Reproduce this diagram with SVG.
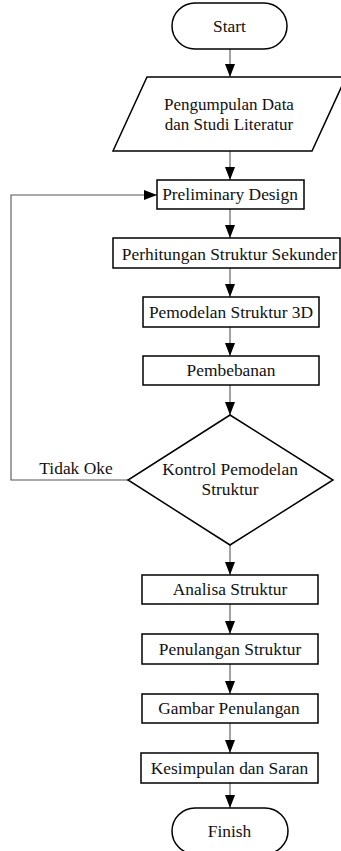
<svg xmlns="http://www.w3.org/2000/svg" width="341" height="851" viewBox="0 0 341 851">
<defs>
<marker id="ah" markerUnits="userSpaceOnUse" markerWidth="14" markerHeight="12" refX="13" refY="5" orient="auto">
<path d="M0,0 L13,5 L0,10 Z" fill="#000"/>
</marker>
<style>
.n{fill:#fff;stroke:#000;stroke-width:1.5}
.t{font-family:'Liberation Serif','Times New Roman',serif;font-size:17.4px;fill:#111;text-anchor:middle}
.c{fill:none;stroke:#555;stroke-width:1.1;marker-end:url(#ah)}
</style>
</defs>
<rect width="341" height="851" fill="#fff"/>
<g id="connectors">
<line class="c" x1="230" y1="49" x2="230" y2="77"/>
<line class="c" x1="230" y1="151" x2="230" y2="180"/>
<line class="c" x1="230" y1="209" x2="230" y2="238"/>
<line class="c" x1="230" y1="268" x2="230" y2="297"/>
<line class="c" x1="230" y1="327" x2="230" y2="356"/>
<line class="c" x1="230" y1="385" x2="230" y2="415"/>
<line class="c" x1="230" y1="545" x2="230" y2="575"/>
<line class="c" x1="230" y1="604" x2="230" y2="634"/>
<line class="c" x1="230" y1="664" x2="230" y2="694"/>
<line class="c" x1="230" y1="723" x2="230" y2="753"/>
<line class="c" x1="230" y1="783" x2="230" y2="808"/>
<polyline class="c" points="128,480 11,480 11,195 157,195"/>
<text class="t" font-family="Liberation Serif, serif" x="76" y="474">Tidak Oke</text>
</g>
<g id="start"><rect class="n" x="172" y="3" width="115" height="46" rx="23"/><text class="t" x="229.5" y="32">Start</text></g>
<g id="data"><polygon class="n" points="147,77 346,77 312,151 113,151"/><text class="t" style="font-size:17px" x="229" y="110">Pengumpulan Data</text><text class="t" style="font-size:17px" x="229" y="129.5">dan Studi Literatur</text></g>
<g id="prelim"><rect class="n" x="157" y="180" width="147" height="29"/><text class="t" x="230" y="200">Preliminary Design</text></g>
<g id="sekunder"><rect class="n" x="113" y="238" width="227" height="30"/><text class="t" x="229.5" y="260">Perhitungan Struktur Sekunder</text></g>
<g id="pemodelan"><rect class="n" x="143" y="297" width="176" height="30"/><text class="t" x="231" y="318">Pemodelan Struktur 3D</text></g>
<g id="pembebanan"><rect class="n" x="143" y="356" width="176" height="29"/><text class="t" x="231" y="376">Pembebanan</text></g>
<g id="kontrol"><polygon class="n" points="230,415 333,480 230,545 128,480"/><text class="t" x="230" y="475">Kontrol Pemodelan</text><text class="t" x="230" y="495">Struktur</text></g>
<g id="analisa"><rect class="n" x="142" y="575" width="176" height="29"/><text class="t" x="230" y="595">Analisa Struktur</text></g>
<g id="penulangan"><rect class="n" x="142" y="634" width="176" height="30"/><text class="t" x="230" y="655">Penulangan Struktur</text></g>
<g id="gambar"><rect class="n" x="142" y="694" width="176" height="29"/><text class="t" x="229" y="714">Gambar Penulangan</text></g>
<g id="kesimpulan"><rect class="n" x="141" y="753" width="177" height="30"/><text class="t" x="229.5" y="774">Kesimpulan dan Saran</text></g>
<g id="finish"><rect class="n" x="172" y="808" width="116" height="46" rx="23"/><text class="t" x="229.5" y="837">Finish</text></g>
</svg>
